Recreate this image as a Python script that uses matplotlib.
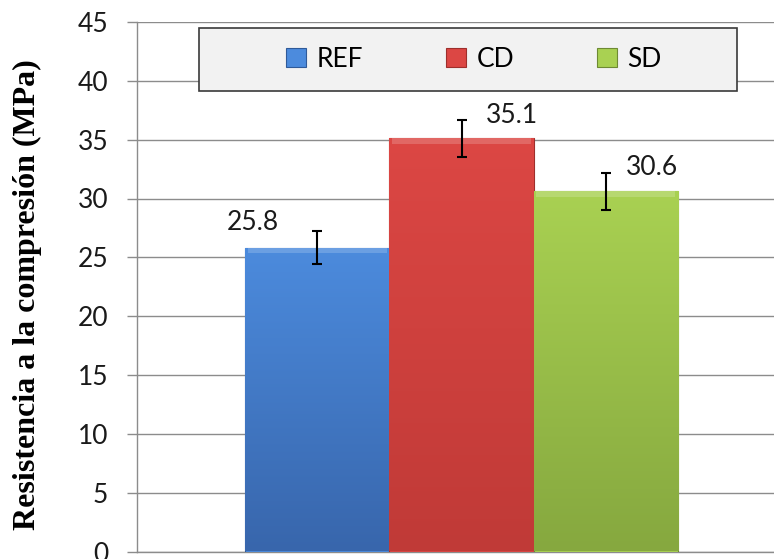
import numpy as np
import matplotlib
matplotlib.use("Agg")
import matplotlib.pyplot as plt
from matplotlib.patches import Patch, Rectangle
from matplotlib.colors import LinearSegmentedColormap

# data
series = ["REF", "CD", "SD"]
values = [25.8, 35.1, 30.6]
errors = [1.4, 1.6, 1.6]
yticks = [0, 5, 10, 15, 20, 25, 30, 35, 40, 45]

# styling
TOP_COLORS = ["#4C8BDD", "#DC4744", "#A9D152"]
BOT_COLORS = ["#3866AC", "#C03A37", "#86A83F"]
EDGE_COLORS = ["#2F5A99", "#9E2F2C", "#6E8A33"]
LABEL_OFFSETS = [(-64, 9), (50, 4), (46, 5)]   # pixels, from error-bar top
GRID = "#8C8C8C"
TICK_FONT = ["Lato", "DejaVu Sans"]
FS = 19

W, H = 774, 559
fig = plt.figure(figsize=(W / 100, H / 100), dpi=100)
x0, x1, y0, y1 = 137, 786, 551.5, 22
ax = fig.add_axes([x0 / W, (H - y0) / H, (x1 - x0) / W, (y0 - y1) / H])

xpos = np.arange(len(series)) - 1.0
bars = ax.bar(xpos, values, width=1.0, color=TOP_COLORS, edgecolor=EDGE_COLORS,
              linewidth=0.8, zorder=3)

# vertical gradient inside each bar
for b, ct, cb in zip(bars, TOP_COLORS, BOT_COLORS):
    cmap = LinearSegmentedColormap.from_list("g", [cb, ct])
    grad = np.linspace(0, 1, 256).reshape(-1, 1)
    bx, bw, bh = b.get_x(), b.get_width(), b.get_height()
    im = ax.imshow(grad, cmap=cmap, aspect="auto", origin="lower",
                   extent=[bx, bx + bw, 0, bh], zorder=3.1)
    im.set_clip_path(b)
    # thin lighter bevel along the top
    ax.add_patch(Rectangle((bx + 0.02, bh - 0.45), bw - 0.04, 0.45, color="white",
                           alpha=0.18, lw=0, zorder=3.2))

ax.errorbar(xpos, values, yerr=errors, fmt="none", ecolor="black", elinewidth=1.5,
            capsize=3.3, capthick=1.5, zorder=4)

for xp, v, e, (dx, dy) in zip(xpos, values, errors, LABEL_OFFSETS):
    ax.annotate(f"{v:.1f}", xy=(xp, v + e), xytext=(dx, dy), textcoords="offset pixels",
                ha="center", va="center", fontsize=FS, family=TICK_FONT, color="#1a1a1a",
                zorder=5)

ax.set_xlim(-2.25, 2.25)
ax.set_ylim(0, 45)
ax.set_yticks(yticks)
ax.set_xticks([])
ax.yaxis.grid(True, color=GRID, lw=1.0, zorder=0)
ax.set_axisbelow(True)
for s in ("top", "right"):
    ax.spines[s].set_visible(False)
for s in ("left", "bottom"):
    ax.spines[s].set_color(GRID)
    ax.spines[s].set_linewidth(1.0)
ax.tick_params(axis="y", length=7.2, width=1.0, color=GRID, pad=13.5,
               labelsize=FS, labelcolor="#1a1a1a")
for lbl in ax.get_yticklabels():
    lbl.set_family(TICK_FONT)

# y label placed in figure pixels
fig.text(27 / W, (H - 294.5) / H, "Resistencia a la compresión (MPa)",
         family=["Liberation Serif", "DejaVu Serif"], fontweight="bold", fontsize=23,
         rotation=90, ha="center", va="center", rotation_mode="anchor")

# legend frame + entries
fig.patches.append(Rectangle((199 / W, (H - 91) / H), (737 - 199) / W, 63 / H,
                             transform=fig.transFigure, facecolor="#F2F2F2",
                             edgecolor="#3a3a3a", lw=1.2, zorder=5))
handles = [Patch(facecolor=c, edgecolor=e, lw=0.8) for c, e in zip(TOP_COLORS, EDGE_COLORS)]
leg = fig.legend(handles, series, loc="center", bbox_to_anchor=(474 / W, (H - 59.5) / H),
                 ncol=3, frameon=False, prop={"family": TICK_FONT, "size": FS},
                 handlelength=0.75, handleheight=0.75, handletextpad=0.4,
                 columnspacing=3.15)
leg.set_zorder(6)

fig.savefig("out.png", dpi=100, facecolor="white")
